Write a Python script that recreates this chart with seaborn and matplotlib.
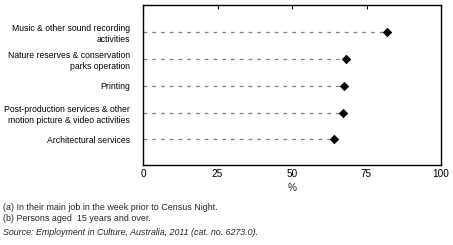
import matplotlib
matplotlib.use("Agg")
import matplotlib.pyplot as plt
import seaborn as sns
import pandas as pd

categories = [
    "Music & other sound recording\nactivities",
    "Nature reserves & conservation\nparks operation",
    "Printing",
    "Post-production services & other\nmotion picture & video activities",
    "Architectural services",
]
values = [82, 68, 67.6, 67, 64]
xticks = [0, 25, 50, 75, 100]

sns.set_theme(style="white")
plt.rcParams['font.family'] = ['Liberation Sans', 'DejaVu Sans']

df = pd.DataFrame({"category": categories, "value": values})

fig = plt.figure(figsize=(4.53, 2.45), dpi=100)
ax = fig.add_axes([143/453, 1-165/245, (441-143)/453, 160/245])

ax.hlines(y=df["category"], xmin=0, xmax=df["value"], colors="#808080",
          linestyles=(0, (3, 4)), linewidth=0.9, zorder=1)
sns.scatterplot(data=df, x="value", y="category", ax=ax, marker="D", s=18,
                color="black", edgecolor="black", linewidth=0.6, zorder=3, legend=False)

ax.set_xlim(0, 100)
ax.set_ylim(4.95, -1)
ax.set_xticks(xticks)
ax.set_xticklabels([str(t) for t in xticks], fontsize=7.2)
ax.tick_params(axis="x", which="both", bottom=False, top=True, direction="in",
               length=3, width=0.8, colors="black", pad=3, labelbottom=True)
ax.tick_params(axis="y", left=False, labelsize=6.2, pad=3.5, colors="black")
ax.set_xlabel("%", fontsize=7.2, labelpad=3)
ax.set_ylabel("")
for s in ax.spines.values():
    s.set_visible(True)
    s.set_color("black")
    s.set_linewidth(1.0)
for lbl in ax.get_yticklabels():
    lbl.set_horizontalalignment("right")
    lbl.set_linespacing(1.3)

fig.text(3/453, 1-207/245, "(a) In their main job in the week prior to Census Night.",
         fontsize=6.4, va="center", ha="left")
fig.text(3/453, 1-218/245, "(b) Persons aged  15 years and over.",
         fontsize=6.4, va="center", ha="left")
fig.text(3/453, 1-232/245, "Source: Employment in Culture, Australia, 2011 (cat. no. 6273.0).",
         fontsize=6.4, va="center", ha="left", style="italic")

fig.savefig("out.png", dpi=100)
